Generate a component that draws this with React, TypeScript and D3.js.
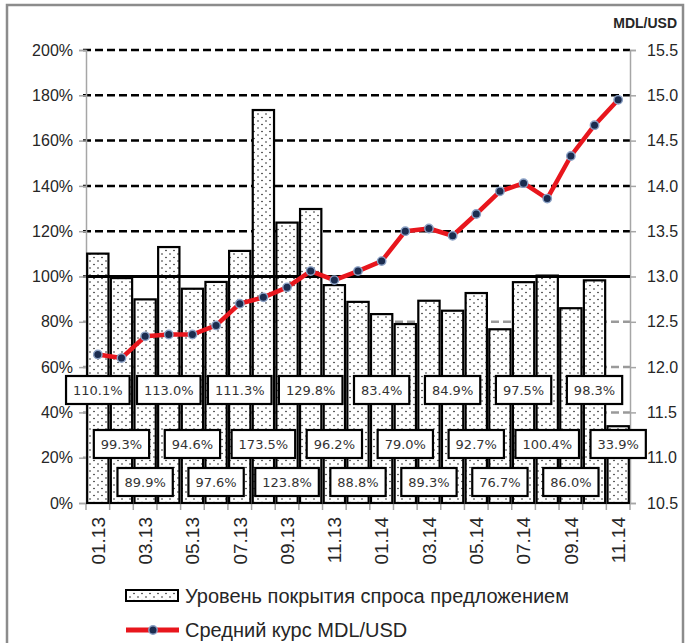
import { useEffect, useRef } from 'react';
import * as d3 from 'd3';

const months = [
  '01.13', '02.13', '03.13', '04.13', '05.13', '06.13', '07.13', '08.13', '09.13', '10.13', '11.13', '12.13',
  '01.14', '02.14', '03.14', '04.14', '05.14', '06.14', '07.14', '08.14', '09.14', '10.14', '11.14',
];
const coverage = [
  110.1, 99.3, 89.9, 113.0, 94.6, 97.6, 111.3, 173.5, 123.8, 129.8, 96.2, 88.8,
  83.4, 79.0, 89.3, 84.9, 92.7, 76.7, 97.5, 100.4, 86.0, 98.3, 33.9,
];
const rate = [
  12.14, 12.10, 12.34, 12.36, 12.36, 12.46, 12.70, 12.77, 12.88, 13.06, 12.96, 13.06,
  13.17, 13.50, 13.53, 13.45, 13.69, 13.94, 14.03, 13.86, 14.33, 14.67, 14.95,
];
const leftTicks = [0, 20, 40, 60, 80, 100, 120, 140, 160, 180, 200];
const rightTicks = [10.5, 11.0, 11.5, 12.0, 12.5, 13.0, 13.5, 14.0, 14.5, 15.0, 15.5];
const legendLabels = ['Уровень покрытия спроса предложением', 'Средний курс MDL/USD'];

export default function App() {
  const svgRef = useRef<SVGSVGElement>(null);

  useEffect(() => {
    const width = 693;
    const height = 643;
    const left = 86, right = 630, top = 50, bottom = 503;
    const axisFont = 'Liberation Sans, Arial, sans-serif';

    const svg = d3.select(svgRef.current);
    svg.selectAll('*').remove();
    svg.attr('width', width).attr('height', height);

    // pointillé des barres
    const defs = svg.append('defs');
    const pat = defs.append('pattern')
      .attr('id', 'dots')
      .attr('patternUnits', 'userSpaceOnUse')
      .attr('width', 8)
      .attr('height', 7);
    pat.append('rect').attr('width', 8).attr('height', 7).attr('fill', '#fff');
    pat.append('circle').attr('cx', 2).attr('cy', 2).attr('r', 0.8).attr('fill', '#222');
    pat.append('circle').attr('cx', 6).attr('cy', 5.5).attr('r', 0.8).attr('fill', '#222');

    svg.append('rect')
      .attr('x', 0).attr('y', 0).attr('width', width).attr('height', height)
      .attr('fill', '#fff');

    // cadre
    svg.append('rect')
      .attr('x', 7).attr('y', 5).attr('width', 676).attr('height', 650)
      .attr('fill', 'none')
      .attr('stroke', '#8c8c8c')
      .attr('stroke-width', 2.5);

    const x = d3.scaleBand<string>()
      .domain(months)
      .range([left, right])
      .paddingInner(0.1)
      .paddingOuter(0.05);
    const yPct = d3.scaleLinear().domain([0, 200]).range([bottom, top]);
    const yRate = d3.scaleLinear().domain([10.5, 15.5]).range([bottom, top]);
    const cx = (m: string) => (x(m) as number) + x.bandwidth() / 2;

    // grille
    svg.append('g')
      .selectAll('line')
      .data(leftTicks.filter(t => t > 0))
      .join('line')
      .attr('x1', left - 3)
      .attr('x2', right)
      .attr('y1', d => yPct(d))
      .attr('y2', d => yPct(d))
      .attr('stroke', d => (d >= 100 ? '#000' : '#9a9a9a'))
      .attr('stroke-width', 2.5)
      .attr('stroke-dasharray', '8,4');

    // axes
    const gL = svg.append('g')
      .attr('transform', `translate(${left},0)`)
      .call(d3.axisLeft(yPct).tickValues(leftTicks).tickFormat(d => `${d}%`).tickSize(7).tickPadding(6));
    const gR = svg.append('g')
      .attr('transform', `translate(${right},0)`)
      .call(d3.axisRight(yRate).tickValues(rightTicks).tickFormat(d3.format('.1f')).tickSize(6).tickPadding(11));
    [gL, gR].forEach(g => {
      g.select('.domain').attr('stroke', '#a6a6a6').attr('stroke-width', 1.5);
      g.selectAll('.tick line').attr('stroke', '#a6a6a6').attr('stroke-width', 1.5);
      g.selectAll('.tick text')
        .attr('fill', '#262626')
        .style('font-family', axisFont)
        .style('font-size', '16px');
    });

    // axe X
    svg.append('line')
      .attr('x1', left).attr('x2', right)
      .attr('y1', bottom).attr('y2', bottom)
      .attr('stroke', '#a6a6a6').attr('stroke-width', 1.5);
    const edges = months.map(m => (x(m) as number) - (x.step() - x.bandwidth()) / 2).concat([right]);
    svg.append('g')
      .selectAll('line')
      .data(edges)
      .join('line')
      .attr('x1', d => d).attr('x2', d => d)
      .attr('y1', bottom).attr('y2', bottom + 7)
      .attr('stroke', '#a6a6a6').attr('stroke-width', 1.5);

    svg.append('g')
      .selectAll('text')
      .data(months.filter((_, i) => i % 2 === 0))
      .join('text')
      .attr('transform', d => `translate(${cx(d)},${bottom + 14}) rotate(-90)`)
      .attr('text-anchor', 'end')
      .attr('dy', '0.36em')
      .attr('fill', '#262626')
      .style('font-family', axisFont)
      .style('font-size', '19px')
      .text(d => d);

    // barres
    svg.append('g')
      .selectAll('rect')
      .data(months)
      .join('rect')
      .attr('x', d => x(d) as number)
      .attr('y', (d, i) => yPct(coverage[i]))
      .attr('width', x.bandwidth())
      .attr('height', (d, i) => bottom - yPct(coverage[i]))
      .attr('fill', 'url(#dots)')
      .attr('stroke', '#000')
      .attr('stroke-width', 2.2);

    // ligne 100 %
    svg.append('line')
      .attr('x1', left).attr('x2', right)
      .attr('y1', yPct(100)).attr('y2', yPct(100))
      .attr('stroke', '#000')
      .attr('stroke-width', 3);

    // courbe du cours
    const line = d3.line<number>()
      .x((d, i) => cx(months[i]))
      .y(d => yRate(d));
    svg.append('path')
      .datum(rate)
      .attr('fill', 'none')
      .attr('stroke', '#e8161d')
      .attr('stroke-width', 4.5)
      .attr('stroke-linejoin', 'round')
      .attr('d', line);
    svg.append('g')
      .selectAll('circle')
      .data(rate)
      .join('circle')
      .attr('cx', (d, i) => cx(months[i]))
      .attr('cy', d => yRate(d))
      .attr('r', 4.2)
      .attr('fill', '#1b2c4f')
      .attr('stroke', '#8aa0c4')
      .attr('stroke-width', 1.4);

    // étiquettes
    const rowY = [390, 444, 482];
    const labels = svg.append('g');
    coverage.forEach((v, i) => {
      const lx = cx(months[i]);
      const ly = rowY[i % 3];
      const t = `${v.toFixed(1)}%`;
      const g = labels.append('g');
      const txt = g.append('text')
        .attr('x', lx)
        .attr('y', ly)
        .attr('dy', '0.36em')
        .attr('text-anchor', 'middle')
        .attr('fill', '#333')
        .style('font-family', 'DejaVu Sans, sans-serif')
        .style('font-size', '13px')
        .text(t);
      const w = (txt.node() as SVGTextElement).getComputedTextLength() + 14;
      g.insert('rect', 'text')
        .attr('x', lx - w / 2)
        .attr('y', ly - 14)
        .attr('width', w)
        .attr('height', 28)
        .attr('fill', '#fff')
        .attr('stroke', '#000')
        .attr('stroke-width', 2.2);
    });

    // unité axe droit
    svg.append('text')
      .attr('x', 677)
      .attr('y', 28)
      .attr('text-anchor', 'end')
      .attr('fill', '#262626')
      .style('font-family', axisFont)
      .style('font-weight', 'bold')
      .style('font-size', '14px')
      .text('MDL/USD');

    // légende
    const legend = svg.append('g');
    legend.append('rect')
      .attr('x', 126).attr('y', 590).attr('width', 52).attr('height', 11)
      .attr('fill', 'url(#dots)')
      .attr('stroke', '#000')
      .attr('stroke-width', 2);
    legend.append('line')
      .attr('x1', 126).attr('x2', 179)
      .attr('y1', 630).attr('y2', 630)
      .attr('stroke', '#e8161d')
      .attr('stroke-width', 5);
    legend.append('circle')
      .attr('cx', 153).attr('cy', 630).attr('r', 4.2)
      .attr('fill', '#1b2c4f')
      .attr('stroke', '#8aa0c4')
      .attr('stroke-width', 1.4);
    legendLabels.forEach((label, i) => {
      legend.append('text')
        .attr('x', 185)
        .attr('y', 603 + i * 34)
        .attr('fill', '#262626')
        .style('font-family', axisFont)
        .style('font-size', '20px')
        .text(label);
    });
  }, []);

  return <svg ref={svgRef} style={{ position: 'absolute', left: 0, top: 0 }} />;
}
